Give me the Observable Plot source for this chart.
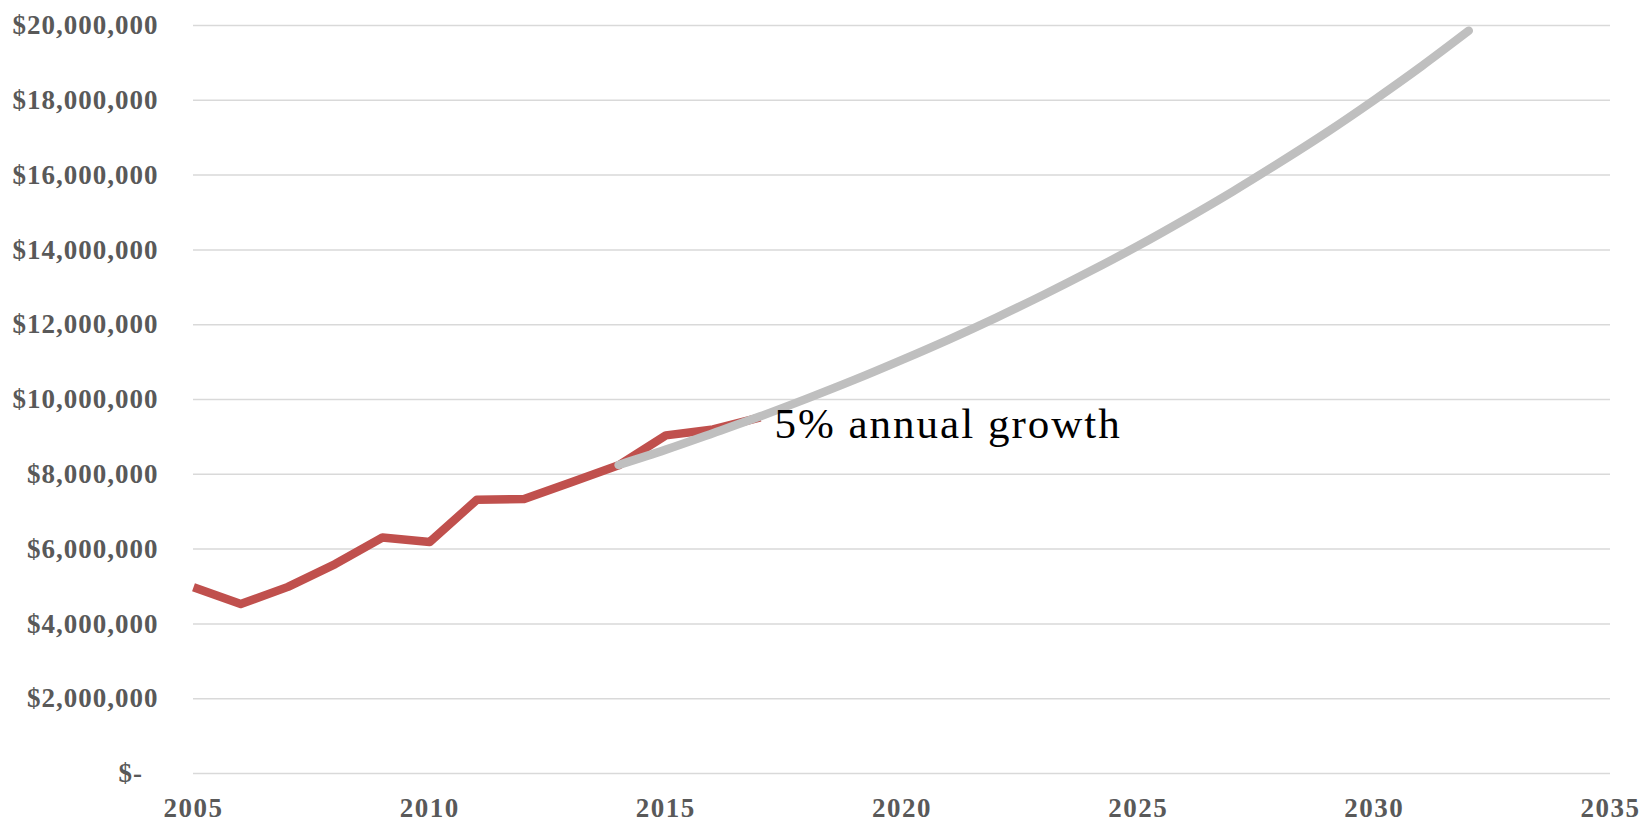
<!DOCTYPE html>
<html>
<head>
<meta charset="utf-8">
<script src="https://cdn.jsdelivr.net/npm/d3@7"></script>
<script src="https://cdn.jsdelivr.net/npm/@observablehq/plot@0.6"></script>
<style>
  html, body { margin: 0; padding: 0; background: #fff; }
  #chart svg { display: block; }
</style>
</head>
<body>
<div id="chart"></div>
<script>
// Actual revenue (red)
const actualYears  = [2005, 2006, 2007, 2008, 2009, 2010, 2011, 2012, 2013, 2014, 2015, 2016, 2017];
const actualValues = [4980000, 4530000, 4990000, 5600000, 6310000, 6190000, 7320000, 7340000, 7790000, 8240000, 9040000, 9200000, 9520000];

// Projection at 5% annual growth (grey)
const projYears  = [2014, 2015, 2016, 2017, 2018, 2019, 2020, 2021, 2022, 2023, 2024, 2025, 2026, 2027, 2028, 2029, 2030, 2031, 2032];
const projValues = [8250000, 8660000, 9100000, 9550000, 10030000, 10530000, 11060000, 11610000, 12190000, 12800000, 13440000, 14110000, 14820000, 15560000, 16340000, 17150000, 18010000, 18910000, 19860000];

// Axis ticks
const xTicks = [2005, 2010, 2015, 2020, 2025, 2030, 2035];
const yTicks = [0, 2000000, 4000000, 6000000, 8000000, 10000000, 12000000, 14000000, 16000000, 18000000, 20000000];

// Annotation
const noteText = ["5% annual growth"];
const noteX = [2017.3];
const noteY = [8980000];

const actual = actualYears.map((y, i) => ({year: y, value: actualValues[i]}));
const proj = projYears.map((y, i) => ({year: y, value: projValues[i]}));
const note = noteText.map((t, i) => ({text: t, x: noteX[i], y: noteY[i]}));

const fmtY = v => v === 0 ? "$-\u00a0\u00a0" : "$" + d3.format(",")(v);

const chart = Plot.plot({
  width: 1644,
  height: 824,
  marginLeft: 193,
  marginRight: 34,
  marginTop: 25,
  marginBottom: 51,
  style: {fontFamily: "'Liberation Serif', serif", background: "#fff"},
  x: {domain: [2005, 2035], ticks: xTicks, tickFormat: d => String(d)},
  y: {domain: [0, 20000000], ticks: yTicks, tickFormat: fmtY},
  marks: [
    Plot.gridY(yTicks, {stroke: "#D9D9D9", strokeOpacity: 1, strokeWidth: 1.5}),
    Plot.axisY({ticks: yTicks, tickFormat: fmtY, tickSize: 0, tickPadding: 35,
      fontSize: 27, fontWeight: "bold", fill: "#595959", label: null, className: "yax"}),
    Plot.axisX({ticks: xTicks, tickFormat: d => String(d), tickSize: 0, tickPadding: 24,
      fontSize: 27, fontWeight: "bold", fill: "#595959", label: null, className: "xax"}),
    Plot.line(actual, {x: "year", y: "value", stroke: "#C0504D", strokeWidth: 8.5,
      strokeLinecap: "butt", strokeLinejoin: "round"}),
    Plot.line(proj, {x: "year", y: "value", stroke: "#BFBFBF", strokeWidth: 8.5,
      strokeLinecap: "round", strokeLinejoin: "round", curve: "catmull-rom"}),
    Plot.text(note, {x: "x", y: "y", text: "text", textAnchor: "start", lineAnchor: "bottom",
      fontSize: 43, fill: "#000", fontFamily: "'Liberation Serif', serif", className: "note"})
  ]
});

document.getElementById("chart").appendChild(chart);
d3.select(chart).selectAll(".note text").style("letter-spacing", "2px");
d3.select(chart).selectAll(".yax text").style("letter-spacing", "1px");
d3.select(chart).selectAll(".xax text").style("letter-spacing", "1.5px");
</script>
</body>
</html>
